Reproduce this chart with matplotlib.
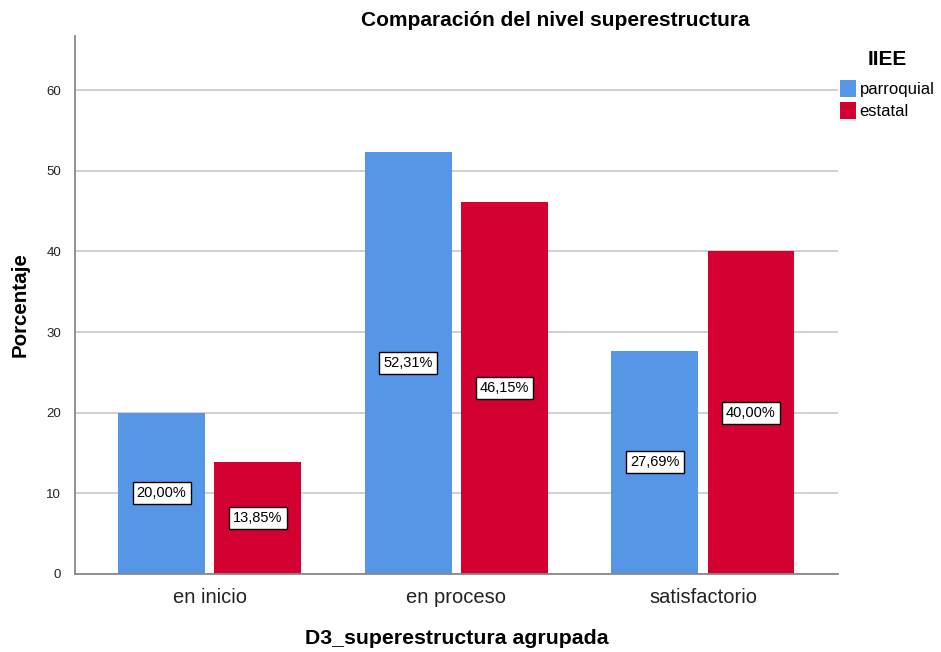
import numpy as np
import matplotlib.pyplot as plt

plt.rcParams['font.family'] = ['Liberation Sans', 'DejaVu Sans']

categorias = ["en inicio", "en proceso", "satisfactorio"]
parroquial = [20.00, 52.31, 27.69]
estatal = [13.85, 46.15, 40.00]
series = [("parroquial", parroquial, "#5596E6"), ("estatal", estatal, "#D50032")]

fig = plt.figure(figsize=(9.41, 6.52), dpi=100)
ax = fig.add_axes([75 / 941, 1 - 574 / 652, 763 / 941, 538 / 652])

x = np.arange(len(categorias))
w = 0.352
offsets = [-0.196, 0.194]
for (nombre, vals, col), off in zip(series, offsets):
    bars = ax.bar(x + off, vals, width=w, color=col, label=nombre, zorder=2)
    for b, v in zip(bars, vals):
        ax.text(b.get_x() + b.get_width() / 2, v / 2, f"{v:.2f}%".replace(".", ","),
                ha="center", va="center", fontsize=10.5, zorder=3,
                bbox=dict(boxstyle="square,pad=0.28", fc="white", ec="black", lw=1.0))

ax.set_xlim(-0.547, 2.547)
ax.set_ylim(0, 66.7)
ax.set_yticks(range(0, 61, 10))
ax.set_xticks(x)
ax.set_xticklabels(categorias, fontsize=14.5, color="#222222")
ax.tick_params(axis="y", labelsize=9.5, length=0, pad=10, colors="#222222")
ax.tick_params(axis="x", length=0, pad=10)
ax.grid(axis="y", color="#c8c8c8", lw=1.2, zorder=0)
for s in ["top", "right"]:
    ax.spines[s].set_visible(False)
for s in ["left", "bottom"]:
    ax.spines[s].set_color("#888888")
    ax.spines[s].set_linewidth(1.3)

ax.set_ylabel("Porcentaje", fontsize=14.8, fontweight="bold", labelpad=12)
ax.set_xlabel("D3_superestructura agrupada", fontsize=15.3, fontweight="bold", labelpad=16)
fig.text(555 / 941, 1 - 20 / 652, "Comparación del nivel superestructura",
         ha="center", va="center", fontsize=15, fontweight="bold")

leg = ax.legend(loc="upper left", bbox_to_anchor=(828 / 941, 1 - 38 / 652),
                bbox_transform=fig.transFigure, frameon=False, fontsize=12,
                title="IIEE", title_fontproperties={"weight": "bold", "size": 15},
                handlelength=0.95, handleheight=1.2, handletextpad=0.25, labelspacing=0.3,
                borderpad=0.2)
leg._legend_box.align = "center"
leg._legend_box.sep = 8

fig.savefig("out.png", dpi=100)
